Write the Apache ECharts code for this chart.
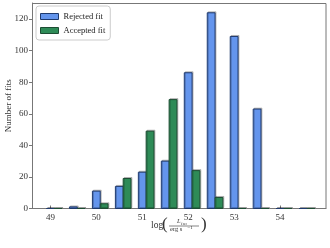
<!DOCTYPE html>
<html><head><meta charset="utf-8">
<script src="https://cdn.jsdelivr.net/npm/echarts@6/dist/echarts.min.js"></script>
<style>html,body{margin:0;padding:0;background:#fff}#c{width:330px;height:248px}</style>
</head><body><div id="c"></div>
<script>
var binCenters = [49, 49.5, 50, 50.5, 51, 51.5, 52, 52.5, 53, 53.5, 54, 54.5];
var rejected  = [0, 1, 11, 14, 23, 30, 86, 124, 109, 63, 0, 0];
var accepted  = [0, 0, 3, 19, 49, 69, 24, 7, 0, 0, 0, 0];
var xTicks = [49, 50, 51, 52, 53, 54];
var yTicks = [0, 20, 40, 60, 80, 100, 120];
var barW = 0.17;
var serif = '"Liberation Serif","DejaVu Serif",serif';

function makeSeries(name, vals, offset, fill, edge) {
  return {
    name: name, type: 'custom', color: fill,
    itemStyle: {color: fill, borderColor: edge, borderWidth: 1},
    data: binCenters.map(function (c, i) { return [c, vals[i]]; }),
    renderItem: function (params, api) {
      var c = api.value(0), v = api.value(1);
      var p0 = api.coord([c + offset, 0]);
      var p1 = api.coord([c + offset + barW, v]);
      return {
        type: 'rect',
        shape: {x: p0[0], y: p1[1], width: p1[0] - p0[0], height: p0[1] - p1[1]},
        style: {fill: fill, stroke: edge, lineWidth: 1,
                shadowColor: 'rgba(0,0,0,0.22)', shadowOffsetX: 1, shadowOffsetY: -1}
      };
    }
  };
}

var chart = echarts.init(document.getElementById('c'), null, {renderer: 'canvas'});
chart.setOption({
  animation: false,
  grid: {left: 32, right: 4, top: 3, bottom: 39.5, containLabel: false, outerBoundsMode: 'none'},
  legend: {
    left: 36, top: 6, orient: 'vertical', icon: 'rect',
    itemWidth: 18, itemHeight: 6, itemGap: 5,
    padding: [6, 5, 5, 4],
    borderColor: '#cccccc', borderWidth: 1, borderRadius: 3,
    backgroundColor: '#fff',
    textStyle: {fontFamily: serif, fontSize: 8.5, color: '#222'},
    data: [
      {name: 'Rejected fit', itemStyle: {color: '#6495ED', borderColor: '#1f3a6e', borderWidth: 1}},
      {name: 'Accepted fit', itemStyle: {color: '#2E8B57', borderColor: '#1d4d33', borderWidth: 1}}
    ]
  },
  xAxis: {
    type: 'value', min: 48.6, max: 55.0,
    axisLine: {show: true, onZero: false, lineStyle: {color: '#777', width: 1}},
    axisTick: {show: true, inside: true, length: 3, lineStyle: {color: '#777'},
      customValues: xTicks},
    axisLabel: {fontFamily: serif, fontSize: 9, color: '#333', margin: 5, customValues: xTicks,
      formatter: function (v) { return String(v); }},
    splitLine: {show: false}
  },
  yAxis: {
    type: 'value', min: 0, max: 130.2,
    name: 'Number of fits', nameLocation: 'middle', nameGap: 19, nameMoveOverlap: false,
    nameTextStyle: {fontFamily: serif, fontSize: 9, color: '#333'},
    axisLine: {show: true, lineStyle: {color: '#777', width: 1}},
    axisTick: {show: true, inside: false, length: 3, lineStyle: {color: '#777'}, customValues: yTicks},
    axisLabel: {fontFamily: serif, fontSize: 9, color: '#333', margin: 4, customValues: yTicks},
    splitLine: {show: false}
  },
  graphic: [
    {type: 'rect', shape: {x: 32.5, y: 3.5, width: 293.5, height: 205}, silent: true, z: 0,
     style: {fill: 'none', stroke: '#777', lineWidth: 1}},
    {type: 'text', x: 151, y: 230, style: {text: 'log', font: '9.5px ' + serif, fill: '#333', textVerticalAlign: 'bottom'}},
    {type: 'text', x: 162, y: 233, style: {text: '(', font: '17px ' + serif, fill: '#333', textVerticalAlign: 'bottom'}},
    {type: 'text', x: 201, y: 233, style: {text: ')', font: '17px ' + serif, fill: '#333', textVerticalAlign: 'bottom'}},
    {type: 'text', x: 177, y: 225, style: {text: 'L', font: 'italic 6.5px ' + serif, fill: '#333', textVerticalAlign: 'bottom'}},
    {type: 'text', x: 181, y: 226, style: {text: 'iso', font: 'italic 5px ' + serif, fill: '#333', textVerticalAlign: 'bottom'}},
    {type: 'line', shape: {x1: 169, y1: 226, x2: 199, y2: 226}, style: {stroke: '#333', lineWidth: 0.6}},
    {type: 'text', x: 170, y: 233, style: {text: 'erg s', font: '6.5px ' + serif, fill: '#333', textVerticalAlign: 'bottom'}},
    {type: 'text', x: 187.5, y: 230.5, style: {text: '−1', font: '5px ' + serif, fill: '#333', textVerticalAlign: 'bottom'}}
  ],
  series: [
    makeSeries('Rejected fit', rejected, -0.085, '#6495ED', '#1f3a6e'),
    makeSeries('Accepted fit', accepted, 0.085, '#2E8B57', '#1d4d33')
  ]
});
</script></body></html>
